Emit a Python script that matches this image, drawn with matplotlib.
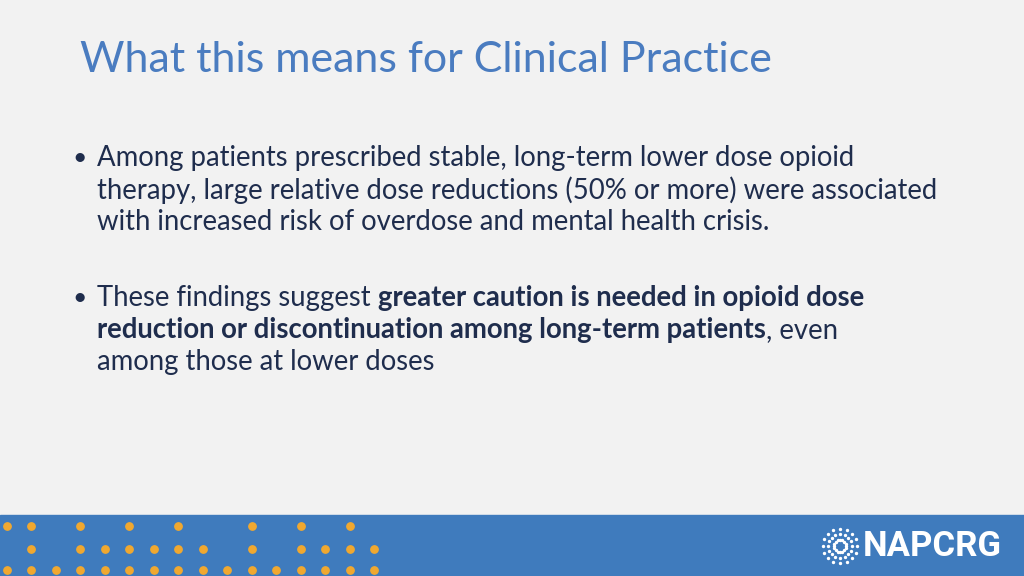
import matplotlib
matplotlib.use("Agg")
import matplotlib.pyplot as plt
from matplotlib.patches import Rectangle
import numpy as np

title = "What this means for Clinical Practice"
bullet1 = ["Among patients prescribed stable, long-term lower dose opioid",
           "therapy, large relative dose reductions (50% or more) were associated",
           "with increased risk of overdose and mental health crisis."]
# bullet 2 lines as (text, bold) segments
bullet2 = [[("These findings suggest ", False), ("greater caution is needed in opioid dose", True)],
           [("reduction or discontinuation among long-term patients", True), (", even", False)],
           [("among those at lower doses", False)]]
dot_row1 = [0, 1, 3, 5, 7, 10, 12, 14]
dot_row2 = [1, 3, 4, 5, 6, 7, 8, 10, 12, 13, 14, 15]
dot_row3 = list(range(16))

W, H = 1024, 576
fig = plt.figure(figsize=(W/100, H/100), dpi=100)
ax = fig.add_axes([0, 0, 1, 1])
ax.set_xlim(0, W); ax.set_ylim(H, 0); ax.axis("off")
fig.patch.set_facecolor("#f2f2f2")
ax.add_patch(Rectangle((0, 0), W, 515, color="#f2f2f2"))
ax.add_patch(Rectangle((0, 515), W, 61, color="#3f7bbd"))

font = "Lato"
ax.text(80, 60, title, fontsize=31, color="#4a7cc0", family=font, va="center")
txt = "#1f2d4d"
fs = 19.8
ax.text(72, 158, "•", fontsize=fs-2, color=txt, family=font, va="center")
for i, line in enumerate(bullet1):
    ax.text(97, 158 + i*32, line, fontsize=fs, color=txt, family=font, va="center")
ax.text(72, 298, "•", fontsize=fs-2, color=txt, family=font, va="center")
r = fig.canvas.get_renderer()
for i, segs in enumerate(bullet2):
    x = 97
    y = 298 + i*32
    for s, b in segs:
        t = ax.text(x, y, s, fontsize=fs, color=txt, family=font, va="center",
                    fontweight="bold" if b else "normal")
        bb = t.get_window_extent(renderer=r)
        x += bb.width

for rows, y in ((dot_row1, 526), (dot_row2, 549), (dot_row3, 570)):
    xs = [6.5 + 24.5*k for k in rows]
    ax.scatter(xs, [y]*len(xs), s=28, color="#f0a830", marker="o", zorder=3)

# logo
ang = np.linspace(0, 2*np.pi, 16, endpoint=False)
for rr in (6, 12, 17):
    ax.scatter(840 + rr*np.cos(ang), 546 + rr*np.sin(ang), s=2, color="white")
ax.text(863, 547, "NAPCRG", fontsize=25, color="white", family="Roboto",
        va="center", fontweight="bold", fontstretch="condensed")
fig.savefig("out.png", dpi=100, facecolor=fig.get_facecolor())
